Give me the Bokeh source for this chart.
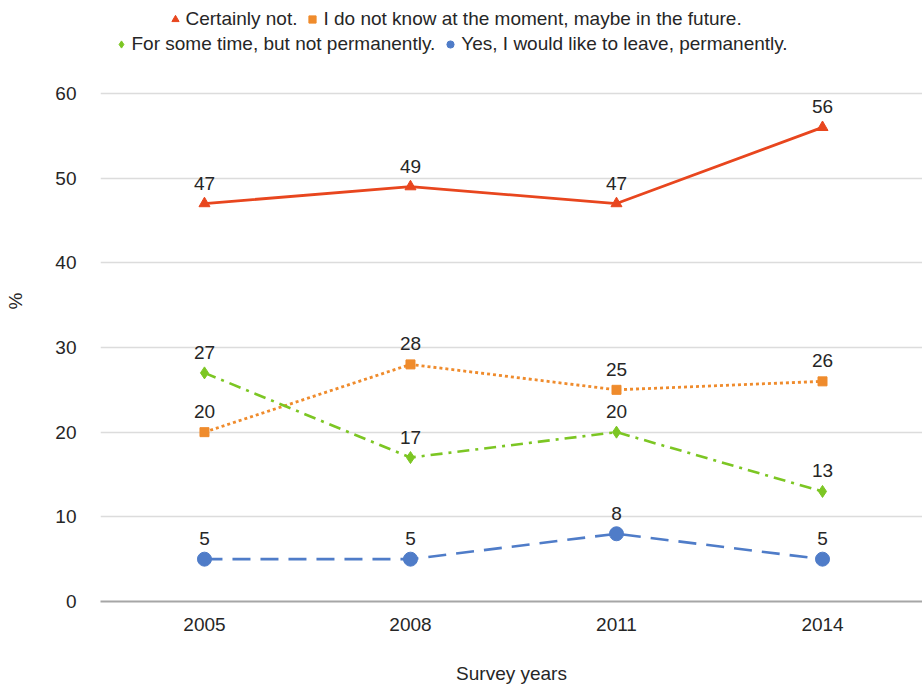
from bokeh.plotting import figure
from bokeh.models import Legend, LegendItem, FixedTicker, ColumnDataSource, Range1d
from bokeh.core.properties import value
from bokeh.embed import file_html
from bokeh.resources import INLINE

years = [2005, 2008, 2011, 2014]
certainly_not = [47, 49, 47, 56]
dont_know = [20, 28, 25, 26]
some_time = [27, 17, 20, 13]
leave_perm = [5, 5, 8, 5]
y_ticks = [0, 10, 20, 30, 40, 50, 60]

names = ["Certainly not.", "I do not know at the moment, maybe in the future.",
         "For some time, but not permanently.", "Yes, I would like to leave, permanently."]
colors = ["#e8461e", "#ef8b2c", "#7cc623", "#4f7cc8"]
markers = ["triangle", "square", "diamond", "circle"]
sizes = [11, 9, 12, 14]
dashes = ["solid", "3 3", "12 6 3 6", "18 10"]
caps = ["round", "butt", "butt", "butt"]
widths = [2.8, 2.8, 2.6, 2.6]
series = [certainly_not, dont_know, some_time, leave_perm]

FONT = "Liberation Sans"
TXT = "#262626"
FS = "19px"

p = figure(width=922, height=686, output_backend="svg", toolbar_location=None,
           x_range=Range1d(2003.486, 2015.456), y_range=Range1d(0, 70.98),
           min_border_left=100, min_border_right=0, min_border_top=0, min_border_bottom=85)
p.outline_line_color = None
p.background_fill_color = "white"

p.xgrid.grid_line_color = None
p.ygrid.grid_line_color = "#dcdcdc"
p.ygrid.grid_line_width = 1.5
p.ygrid.ticker = FixedTicker(ticks=y_ticks[1:])

p.yaxis.ticker = FixedTicker(ticks=y_ticks)
p.yaxis.axis_line_color = None
p.yaxis.major_tick_line_color = None
p.yaxis.minor_tick_line_color = None
p.yaxis.major_label_standoff = 18
p.yaxis.major_label_text_font = FONT
p.yaxis.major_label_text_font_size = FS
p.yaxis.major_label_text_color = TXT
p.yaxis.axis_label = "%"
p.yaxis.axis_label_standoff = 26
p.yaxis.axis_label_text_font = FONT
p.yaxis.axis_label_text_font_style = "normal"
p.yaxis.axis_label_text_font_size = FS
p.yaxis.axis_label_text_color = TXT

p.xaxis.ticker = FixedTicker(ticks=years)
p.xaxis.axis_line_color = "#a6a6a6"
p.xaxis.axis_line_width = 2
p.xaxis.major_tick_line_color = None
p.xaxis.minor_tick_line_color = None
p.xaxis.major_label_standoff = 10
p.xaxis.major_label_text_font = FONT
p.xaxis.major_label_text_font_size = FS
p.xaxis.major_label_text_color = TXT
p.xaxis.axis_label = "Survey years"
p.xaxis.axis_label_standoff = 29
p.xaxis.axis_label_text_font = FONT
p.xaxis.axis_label_text_font_style = "normal"
p.xaxis.axis_label_text_font_size = FS
p.xaxis.axis_label_text_color = TXT

marker_renderers = []
for name, col, mk, sz, dash, cap, lw, vals in zip(names, colors, markers, sizes, dashes,
                                                 caps, widths, series):
    src = ColumnDataSource(dict(x=years, y=vals, lab=[str(v) for v in vals]))
    p.line("x", "y", source=src, line_color=col, line_width=lw, line_dash=dash,
           line_cap=cap)
    r = p.scatter("x", "y", source=src, marker=mk, size=sz, fill_color=col, line_color=col)
    marker_renderers.append(r)
    p.text("x", "y", text="lab", source=src, text_align="center", text_baseline="bottom",
           y_offset=-14, text_font=value(FONT), text_font_size=FS, text_color=TXT)

def make_legend(idx, loc):
    return Legend(items=[LegendItem(label=names[i], renderers=[marker_renderers[i]]) for i in idx],
                  orientation="horizontal", location=loc,
                  glyph_width=18, glyph_height=18, label_standoff=2, spacing=6,
                  padding=0, margin=0, border_line_color=None, background_fill_alpha=0,
                  label_text_font=FONT, label_text_font_size=FS, label_text_color=TXT)

p.add_layout(make_legend([0, 1], (65.5, 571)), "center")
p.add_layout(make_legend([2, 3], (11.5, 546)), "center")

open("out.html", "w").write(file_html(p, INLINE))
